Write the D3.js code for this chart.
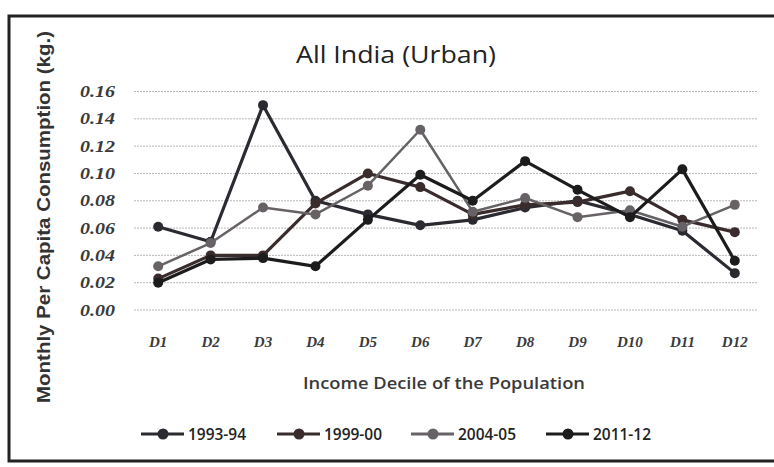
<!DOCTYPE html>
<html>
<head>
<meta charset="utf-8">
<script src="https://cdn.jsdelivr.net/npm/d3@7"></script>
<style>
  html, body { margin: 0; padding: 0; background: #fff; }
  svg { display: block; }
</style>
</head>
<body>
<svg id="chart"></svg>
<script>
const deciles = ['D1', 'D2', 'D3', 'D4', 'D5', 'D6', 'D7', 'D8', 'D9', 'D10', 'D11', 'D12'];
const yTicks = [0, 0.02, 0.04, 0.06, 0.08, 0.10, 0.12, 0.14, 0.16];
const years = ['1993-94', '1999-00', '2004-05', '2011-12'];

const s1993 = [0.061, 0.050, 0.150, 0.080, 0.070, 0.062, 0.066, 0.075, 0.080, 0.070, 0.058, 0.027];
const s1999 = [0.023, 0.040, 0.040, 0.078, 0.100, 0.090, 0.070, 0.077, 0.079, 0.087, 0.066, 0.057];
const s2004 = [0.032, 0.049, 0.075, 0.070, 0.091, 0.132, 0.072, 0.082, 0.068, 0.073, 0.061, 0.077];
const s2011 = [0.020, 0.037, 0.038, 0.032, 0.066, 0.099, 0.080, 0.109, 0.088, 0.068, 0.103, 0.036];

const colors = ['#2a2a30', '#3a2c2c', '#666266', '#1c1c1c'];
const series = [s1993, s1999, s2004, s2011].map((values, i) => ({
  name: years[i],
  color: colors[i],
  points: values.map((v, j) => ({ d: deciles[j], v }))
}));

const width = 774;
const height = 467;

const svg = d3.select('#chart').attr('width', width).attr('height', height);

// scanned frame
svg.append('rect')
  .attr('x', 9).attr('y', 16)
  .attr('width', width + 10).attr('height', 445)
  .attr('fill', 'none')
  .attr('stroke', '#222')
  .attr('stroke-width', 3);

const x = d3.scaleBand().domain(deciles).range([132, 761]);
const y = d3.scaleLinear().domain([0, 0.16]).range([310, 91.5]);

// gridlines
svg.append('g')
  .selectAll('line')
  .data(yTicks)
  .join('line')
  .attr('x1', 134)
  .attr('x2', 758)
  .attr('y1', (d) => y(d))
  .attr('y2', (d) => y(d))
  .attr('stroke', '#b8b8b8')
  .attr('stroke-width', 1)
  .attr('stroke-dasharray', '2,1');

const yAxis = svg.append('g')
  .attr('transform', 'translate(120,0)')
  .call(d3.axisLeft(y).tickValues(yTicks).tickFormat(d3.format('.2f')).tickSize(0).tickPadding(5));
yAxis.select('.domain').remove();
yAxis.selectAll('text')
  .attr('font-family', '"Liberation Serif", serif')
  .attr('font-weight', 'bold')
  .attr('font-style', 'italic')
  .attr('font-size', 16)
  .attr('fill', '#3a3a3a')
  .attr('textLength', 35)
  .attr('lengthAdjust', 'spacingAndGlyphs');

const xAxis = svg.append('g')
  .attr('transform', 'translate(0,333)')
  .call(d3.axisBottom(x).tickSize(0).tickPadding(3));
xAxis.select('.domain').remove();
xAxis.selectAll('text')
  .attr('font-family', '"Liberation Serif", serif')
  .attr('font-weight', 'bold')
  .attr('font-style', 'italic')
  .attr('font-size', 15)
  .attr('fill', '#3a3a3a');

const line = d3.line()
  .x((p) => x(p.d) + x.bandwidth() / 2)
  .y((p) => y(p.v));

const lines = svg.append('g')
  .selectAll('g')
  .data(series)
  .join('g');

lines.append('path')
  .attr('d', (s) => line(s.points))
  .attr('fill', 'none')
  .attr('stroke', (s) => s.color)
  .attr('stroke-width', (s) => (s.name === '2004-05' ? 2.5 : 3.2))
  .attr('stroke-linejoin', 'round');

lines.selectAll('circle')
  .data((s) => s.points.map((p) => ({ ...p, color: s.color })))
  .join('circle')
  .attr('cx', (p) => x(p.d) + x.bandwidth() / 2)
  .attr('cy', (p) => y(p.v))
  .attr('r', 5)
  .attr('fill', (p) => p.color);

// titles
svg.append('text')
  .attr('x', 396)
  .attr('y', 63)
  .attr('text-anchor', 'middle')
  .attr('font-family', '"Open Sans", sans-serif')
  .attr('font-size', 23)
  .attr('fill', '#222')
  .attr('textLength', 200)
  .attr('lengthAdjust', 'spacingAndGlyphs')
  .text('All India (Urban)');

svg.append('text')
  .attr('transform', 'translate(50,217) rotate(-90)')
  .attr('text-anchor', 'middle')
  .attr('font-family', '"Liberation Sans", Arial, sans-serif')
  .attr('font-weight', 'bold')
  .attr('font-size', 18)
  .attr('fill', '#333')
  .attr('textLength', 372)
  .attr('lengthAdjust', 'spacingAndGlyphs')
  .text('Monthly Per Capita Consumption (kg.)');

svg.append('text')
  .attr('x', 444)
  .attr('y', 389)
  .attr('text-anchor', 'middle')
  .attr('font-family', '"Open Sans", sans-serif')
  .attr('font-weight', 600)
  .attr('font-size', 17)
  .attr('fill', '#3a3a3a')
  .attr('textLength', 282)
  .attr('lengthAdjust', 'spacingAndGlyphs')
  .text('Income Decile of the Population');

// legend
const legendX = [141, 277, 411, 546];
const legend = svg.append('g')
  .selectAll('g')
  .data(series)
  .join('g')
  .attr('transform', (s, i) => `translate(${legendX[i]},434)`);

legend.append('line')
  .attr('x1', 0).attr('x2', 43)
  .attr('stroke', (s) => s.color)
  .attr('stroke-width', 3);

legend.append('circle')
  .attr('cx', 22)
  .attr('r', 5.5)
  .attr('fill', (s) => s.color);

legend.append('text')
  .attr('x', 47)
  .attr('dy', '0.35em')
  .attr('font-family', '"Open Sans", sans-serif')
  .attr('font-weight', 600)
  .attr('font-size', 16)
  .attr('fill', '#222')
  .attr('textLength', 58)
  .attr('lengthAdjust', 'spacingAndGlyphs')
  .text((s) => s.name);
</script>
</body>
</html>
